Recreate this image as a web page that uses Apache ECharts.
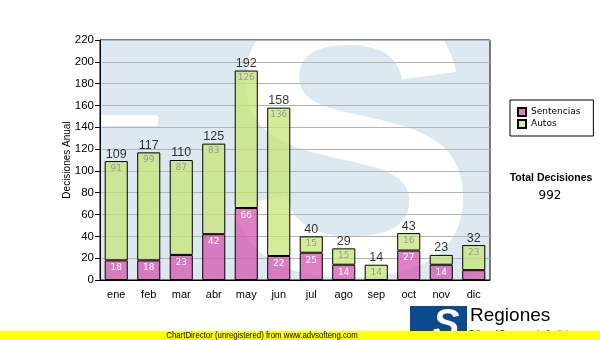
<!DOCTYPE html>
<html>
<head>
<meta charset="utf-8">
<script src="https://cdn.jsdelivr.net/npm/echarts@6/dist/echarts.min.js"></script>
<style>
  html, body { margin: 0; padding: 0; background: #fff; }
  #chart { width: 600px; height: 340px; }
</style>
</head>
<body>
<div id="chart"></div>
<script>
// Monthly decisions, split into Sentencias and Autos
const months = ['ene', 'feb', 'mar', 'abr', 'may', 'jun', 'jul', 'ago', 'sep', 'oct', 'nov', 'dic'];
const sentencias = [18, 18, 23, 42, 66, 22, 25, 14, 0, 27, 14, 9];
const autos = [91, 99, 87, 83, 126, 136, 15, 15, 14, 16, 9, 23];
const yMin = 0;
const yMax = 220;
const yStep = 20;

const totals = months.map((m, i) => sentencias[i] + autos[i]);
const grandTotal = totals.reduce((a, b) => a + b, 0);

// Plot rectangle (pixels)
const G = { left: 100, top: 40, right: 110, bottom: 60 };
const W = 600, H = 340;
const px = { x0: G.left, y0: G.top, x1: W - G.right, y1: H - G.bottom };

const sansFont = 'Liberation Sans, Arial, sans-serif';
const tahomaLike = 'DejaVu Sans, Verdana, sans-serif';

const chart = echarts.init(document.getElementById('chart'), null, { renderer: 'canvas' });

// Small labels inside segments are only drawn when the segment is tall enough
const innerFmt = p => (p.value >= 10 ? String(p.value) : '');

chart.setOption({
  animation: false,
  backgroundColor: '#ffffff',
  grid: {
    left: G.left, top: G.top, right: G.right, bottom: G.bottom,
    show: true, borderColor: '#000', borderWidth: 1, backgroundColor: 'transparent',
    containLabel: false
  },
  legend: {
    orient: 'vertical',
    left: 510, top: 100,
    padding: [7, 13, 7, 7],
    itemGap: 2,
    itemWidth: 8, itemHeight: 8,
    icon: 'rect',
    borderColor: '#000', borderWidth: 1,
    backgroundColor: '#fff',
    data: ['Sentencias', 'Autos'],
    textStyle: { fontFamily: tahomaLike, fontSize: 9, color: '#000' }
  },
  xAxis: {
    type: 'category',
    data: months,
    axisLine: { lineStyle: { color: '#000', width: 1 } },
    axisTick: { alignWithLabel: true, length: 5, lineStyle: { color: '#000' } },
    axisLabel: { color: '#000', fontFamily: sansFont, fontSize: 11, margin: 9 },
    splitLine: { show: false }
  },
  yAxis: {
    type: 'value',
    min: yMin, max: yMax, interval: yStep,
    name: 'Decisiones Anual',
    nameLocation: 'middle',
    nameGap: 28,
    nameMoveOverlap: false,
    nameTextStyle: { color: '#000', fontFamily: sansFont, fontSize: 10 },
    axisLine: { show: true, lineStyle: { color: '#000', width: 1 } },
    axisTick: { show: true, length: 5, lineStyle: { color: '#000' } },
    axisLabel: { color: '#000', fontFamily: sansFont, fontSize: 11.5, margin: 6 },
    splitLine: { show: true, lineStyle: { color: '#b4b4b4', width: 1 } }
  },
  series: [
    {
      name: 'Sentencias',
      type: 'bar',
      stack: 'dec',
      barWidth: '71%',
      data: sentencias,
      itemStyle: { color: 'rgba(214,86,176,0.75)', borderColor: '#000', borderWidth: 1 },
      label: {
        show: true, position: 'insideTop', distance: 3,
        color: '#fff', fontFamily: tahomaLike, fontSize: 9,
        formatter: innerFmt
      }
    },
    {
      name: 'Autos',
      type: 'bar',
      stack: 'dec',
      barWidth: '71%',
      data: autos,
      itemStyle: { color: 'rgba(198,230,118,0.75)', borderColor: '#000', borderWidth: 1 },
      label: {
        show: true, position: 'insideTop', distance: 3,
        color: '#9a9a9a', fontFamily: tahomaLike, fontSize: 9,
        formatter: innerFmt
      }
    },
    {
      name: 'Total',
      type: 'scatter',
      data: totals,
      symbolSize: 1,
      itemStyle: { color: 'rgba(0,0,0,0)' },
      label: {
        show: true, position: 'top', distance: 0,
        color: '#000', fontFamily: sansFont, fontSize: 12.5
      },
      z: 5
    }
  ],
  graphic: [
    // plot background
    { type: 'rect', z: -10, silent: true,
      shape: { x: px.x0, y: px.y0, width: px.x1 - px.x0, height: px.y1 - px.y0 },
      style: { fill: '#dde8f1' } },
    // large watermark letter
    { type: 'text', z: -9, silent: true,
      style: { text: 'S', x: 350, y: 168, align: 'center', verticalAlign: 'middle',
               font: 'bold 384px Liberation Sans, Arial, sans-serif', fill: '#ffffff' } },
    { type: 'rect', z: -9, silent: true,
      shape: { x: px.x0, y: 115, width: 58, height: 11 },
      style: { fill: '#ffffff' } },
    // white margins around the plot hide the watermark overflow
    { type: 'rect', z: -8, silent: true,
      shape: { x: 0, y: 0, width: W, height: px.y0 }, style: { fill: '#fff' } },
    { type: 'rect', z: -8, silent: true,
      shape: { x: 0, y: px.y1, width: W, height: H - px.y1 }, style: { fill: '#fff' } },
    { type: 'rect', z: -8, silent: true,
      shape: { x: px.x1, y: 0, width: W - px.x1, height: H }, style: { fill: '#fff' } },
    { type: 'rect', z: -8, silent: true,
      shape: { x: 0, y: 0, width: px.x0, height: H }, style: { fill: '#fff' } },
    // total panel
    { type: 'text', z: 10, silent: true,
      style: { text: 'Total Decisiones', x: 551, y: 178, align: 'center', verticalAlign: 'middle',
               font: 'bold 10.5px Liberation Sans, Arial, sans-serif', fill: '#000' } },
    { type: 'text', z: 10, silent: true,
      style: { text: String(grandTotal), x: 550, y: 196, align: 'center', verticalAlign: 'middle',
               font: '12px DejaVu Sans, Verdana, sans-serif', fill: '#000' } },
    // footer logo
    { type: 'rect', z: 10, silent: true,
      shape: { x: 410, y: 306, width: 57, height: 34 }, style: { fill: '#0b4a8e' } },
    { type: 'text', z: 11, silent: true,
      style: { text: 'S', x: 446, y: 326, align: 'center', verticalAlign: 'middle',
               font: 'bold italic 40px Liberation Sans, Arial, sans-serif', fill: '#ffffff' } },
    { type: 'text', z: 10, silent: true,
      style: { text: 'Regiones', x: 470, y: 316, align: 'left', verticalAlign: 'middle',
               font: '19px Liberation Sans, Arial, sans-serif', fill: '#000' } },
    { type: 'text', z: 10, silent: true,
      style: { text: 'Tribunal Supremo de Justicia', x: 469, y: 333, align: 'left', verticalAlign: 'middle',
               font: '8px Liberation Sans, Arial, sans-serif', fill: '#000' } },
    // footer band
    { type: 'rect', z: 12, silent: true,
      shape: { x: 0, y: 331, width: W, height: 9 }, style: { fill: '#ffff00' } },
    { type: 'text', z: 13, silent: true, x: 262, y: 335.5, scaleX: 0.87,
      style: { text: 'ChartDirector (unregistered) from www.advsofteng.com', x: 0, y: 0,
               align: 'center', verticalAlign: 'middle',
               font: '9px Liberation Sans, Arial, sans-serif', fill: '#000' } }
  ]
});
</script>
</body>
</html>
